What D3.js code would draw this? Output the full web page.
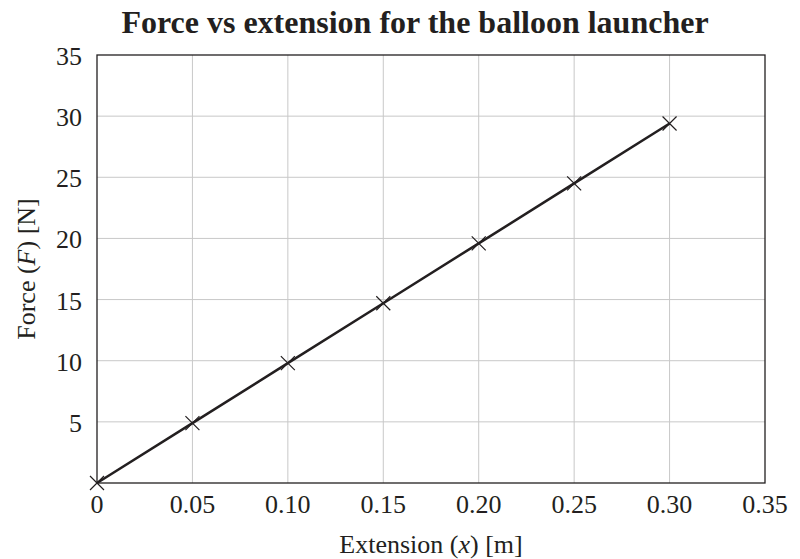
<!DOCTYPE html>
<html>
<head>
<meta charset="utf-8">
<script src="https://cdn.jsdelivr.net/npm/d3@7"></script>
<style>
  html, body { margin: 0; padding: 0; background: #fff; }
  svg text { font-family: 'Liberation Serif', 'Times New Roman', serif; fill: #231f20; }
</style>
</head>
<body>
<svg id="chart" width="800" height="559"></svg>
<script>
// data
const extension = [0, 0.05, 0.10, 0.15, 0.20, 0.25, 0.30];
const force = [0, 4.9, 9.8, 14.7, 19.6, 24.5, 29.4];
const xTicks = [0, 0.05, 0.10, 0.15, 0.20, 0.25, 0.30, 0.35];
const yTicks = [5, 10, 15, 20, 25, 30, 35];

const W = 800, H = 559;
const M = { left: 97, right: 35, top: 55, bottom: 76 };

const svg = d3.select('#chart');
const x = d3.scaleLinear().domain([0, 0.35]).range([M.left, W - M.right]);
const y = d3.scaleLinear().domain([0, 35]).range([H - M.bottom, M.top]);

// grid
svg.append('g').selectAll('line').data(xTicks.slice(1, -1)).join('line')
  .attr('x1', d => x(d)).attr('x2', d => x(d))
  .attr('y1', y(0)).attr('y2', y(35))
  .attr('stroke', '#c8c8c8').attr('stroke-width', 1);
svg.append('g').selectAll('line').data(yTicks.slice(0, -1)).join('line')
  .attr('x1', x(0)).attr('x2', x(0.35))
  .attr('y1', d => y(d)).attr('y2', d => y(d))
  .attr('stroke', '#c8c8c8').attr('stroke-width', 1);

// frame
svg.append('rect')
  .attr('x', x(0)).attr('y', y(35))
  .attr('width', x(0.35) - x(0)).attr('height', y(0) - y(35))
  .attr('fill', 'none').attr('stroke', '#231f20').attr('stroke-width', 1.3);

// tick labels
svg.append('g').selectAll('text').data(xTicks).join('text')
  .attr('x', d => x(d)).attr('y', y(0) + 30)
  .attr('text-anchor', 'middle').attr('font-size', 26)
  .text(d => d === 0 ? '0' : d3.format('.2f')(d));
svg.append('g').selectAll('text').data(yTicks).join('text')
  .attr('x', x(0) - 15).attr('y', d => y(d) + 10)
  .attr('text-anchor', 'end').attr('font-size', 26)
  .text(d => d);

// data line + markers
const line = d3.line().x((d, i) => x(extension[i])).y(d => y(d));
svg.append('path').datum(force)
  .attr('d', line).attr('fill', 'none')
  .attr('stroke', '#231f20').attr('stroke-width', 2.5);

const s = 7;
const mk = svg.append('g').selectAll('g').data(force).join('g')
  .attr('transform', (d, i) => `translate(${x(extension[i])},${y(d)})`);
mk.append('path').attr('d', `M${-s},${-s}L${s},${s}M${-s},${s}L${s},${-s}`)
  .attr('stroke', '#231f20').attr('stroke-width', 1.2);

// titles
svg.append('text')
  .attr('x', 415).attr('y', 33)
  .attr('text-anchor', 'middle').attr('font-size', 32).attr('font-weight', 'bold')
  .text('Force vs extension for the balloon launcher');

const xl = svg.append('text')
  .attr('x', (x(0) + x(0.35)) / 2).attr('y', 553)
  .attr('text-anchor', 'middle').attr('font-size', 26);
xl.append('tspan').text('Extension (');
xl.append('tspan').attr('font-style', 'italic').text('x');
xl.append('tspan').text(') [m]');

const yl = svg.append('text')
  .attr('transform', `translate(35,${(y(0) + y(35)) / 2}) rotate(-90)`)
  .attr('text-anchor', 'middle').attr('font-size', 26);
yl.append('tspan').text('Force (');
yl.append('tspan').attr('font-style', 'italic').text('F');
yl.append('tspan').text(') [N]');
</script>
</body>
</html>
